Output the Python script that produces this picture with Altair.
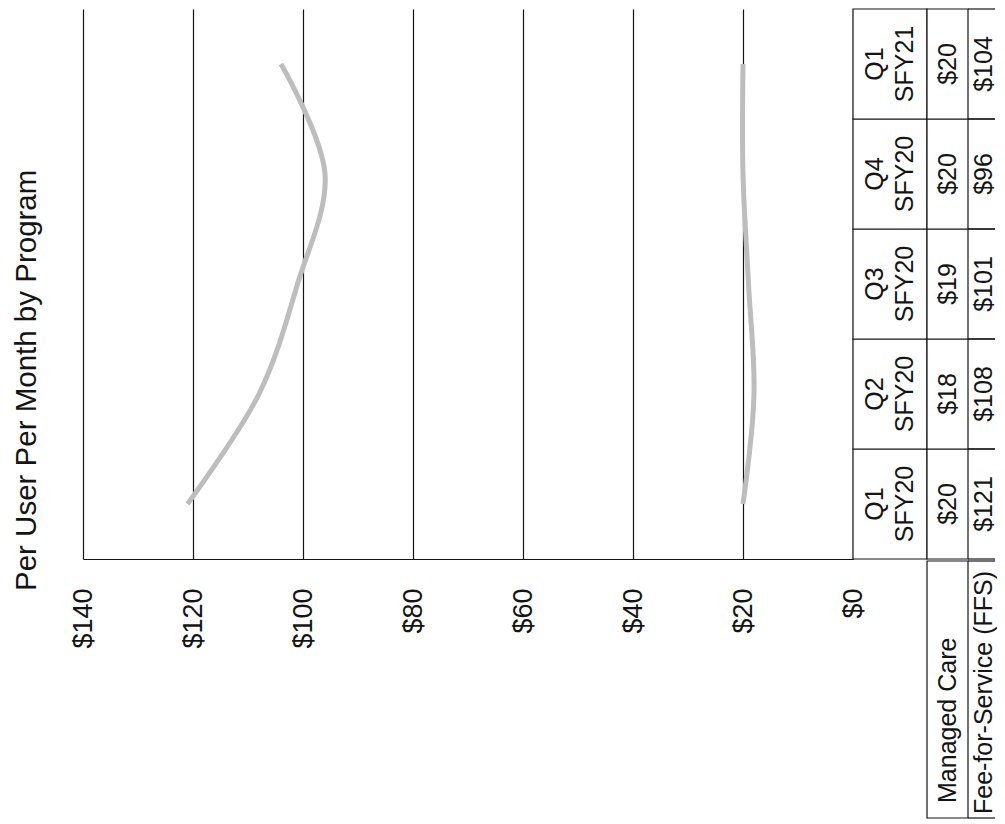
import altair as alt
import pandas as pd

# ---- data ----
quarters = ["Q1 SFY20", "Q2 SFY20", "Q3 SFY20", "Q4 SFY20", "Q1 SFY21"]
managed_care = [20, 18, 19, 20, 20]
ffs = [121, 108, 101, 96, 104]
series_names = ["Managed Care", "Fee-for-Service (FFS)"]
title_text = "Per User Per Month by Program"
tick_values = [0, 20, 40, 60, 80, 100, 120, 140]

FONT = "Liberation Sans"
INK = "#141414"
LINE_GRAY = "#bdbdbd"
order = quarters[::-1]

rows = []
for name, vals in zip(series_names, [managed_care, ffs]):
    for q, v in zip(quarters, vals):
        rows.append({"series": name, "quarter": q, "value": v, "label": f"${v}"})
df = pd.DataFrame(rows)
mc_df = df[df.series == series_names[0]]
ffs_df = df[df.series == series_names[1]]
hdr_df = pd.DataFrame({"quarter": quarters, "header": [q.replace(" ", "\n") for q in quarters]})
mc_name_df = pd.DataFrame({"row": ["name"], "name": [series_names[0]]})
ffs_name_df = pd.DataFrame({"row": ["name"], "name": [series_names[1]]})

PLOT_W, PLOT_H = 770, 550
LAB_H = 257
HDR_W, MC_W, FFS_W = 74, 41, 27

band_scale = alt.Scale(type="band", domain=order, paddingInner=0, paddingOuter=0)
row_scale = alt.Scale(type="band", domain=["name"], paddingInner=0, paddingOuter=0)

# ---- main plot ----
lines = alt.Chart(df).mark_line(
    interpolate="catmull-rom", strokeWidth=5, color=LINE_GRAY
).encode(
    x=alt.X(
        "value:Q",
        scale=alt.Scale(domain=[0, 140], reverse=True, nice=False, zero=True),
        axis=alt.Axis(
            values=tick_values, format="$,.0f", labelAngle=270, labelFontSize=27,
            labelFont=FONT, labelColor=INK, labelPadding=29, ticks=False, tickSize=0,
            domain=True, domainColor=INK, domainWidth=1.2, grid=True, gridColor=INK,
            gridWidth=1.2, gridOpacity=1, title=None,
        ),
    ),
    y=alt.Y("quarter:N", scale=alt.Scale(type="point", domain=order, padding=0.5), axis=None),
    detail="series:N",
).properties(
    width=PLOT_W, height=PLOT_H,
    title=alt.Title(
        title_text, orient="left", anchor="start", frame="group", fontSize=29.5,
        font=FONT, fontWeight="normal", color=INK, offset=27, dx=-32,
    ),
)

# ---- data table ----
def rect_layer(data, field, scale):
    return alt.Chart(data).mark_rect(fill="white", stroke=INK, strokeWidth=1.2).encode(
        y=alt.Y(field, scale=scale, axis=None)
    )

def rules_layer(data, field, scale):
    top = alt.Chart(data).mark_rule(color=INK, strokeWidth=1.2).encode(
        y=alt.Y(field, scale=scale, axis=None, bandPosition=0)
    )
    bot = alt.Chart(data).mark_rule(color=INK, strokeWidth=1.2).encode(
        y=alt.Y(field, scale=scale, axis=None, bandPosition=1)
    )
    return top + bot

text_kw = dict(angle=270, fontSize=25, font=FONT, color=INK, baseline="middle")

hdr = alt.layer(
    rect_layer(hdr_df, "quarter:N", band_scale),
    alt.Chart(hdr_df).mark_text(align="center", lineBreak="\n", lineHeight=30, dy=-15, **text_kw).encode(
        y=alt.Y("quarter:N", scale=band_scale, axis=None, bandPosition=0.5), text="header:N"
    ),
).properties(width=HDR_W, height=PLOT_H)

mcp = alt.layer(
    rect_layer(mc_df, "quarter:N", band_scale),
    alt.Chart(mc_df).mark_text(align="center", **text_kw).encode(
        y=alt.Y("quarter:N", scale=band_scale, axis=None, bandPosition=0.5), text="label:N"
    ),
).properties(width=MC_W, height=PLOT_H)

ffsp = alt.layer(
    rules_layer(ffs_df, "quarter:N", band_scale),
    alt.Chart(ffs_df).mark_text(align="center", dy=2, **text_kw).encode(
        y=alt.Y("quarter:N", scale=band_scale, axis=None, bandPosition=0.5), text="label:N"
    ),
).properties(width=FFS_W, height=PLOT_H)

blank = alt.Chart(mc_name_df).mark_rect(opacity=0).encode(
    y=alt.Y("row:N", scale=row_scale, axis=None)
).properties(width=HDR_W, height=LAB_H)

mcl = alt.layer(
    rect_layer(mc_name_df, "row:N", row_scale),
    alt.Chart(mc_name_df).mark_text(align="left", dx=15, **text_kw).encode(
        y=alt.Y("row:N", scale=row_scale, axis=None, bandPosition=1), text="name:N"
    ),
).properties(width=MC_W, height=LAB_H)

ffsl = alt.layer(
    rules_layer(ffs_name_df, "row:N", row_scale),
    alt.Chart(ffs_name_df).mark_text(align="left", dx=4, dy=2, **text_kw).encode(
        y=alt.Y("row:N", scale=row_scale, axis=None, bandPosition=1), text="name:N"
    ),
).properties(width=FFS_W, height=LAB_H)

right_top = alt.hconcat(hdr, mcp, ffsp, spacing=0, bounds="flush").resolve_scale(x="independent", y="independent")
right_bot = alt.hconcat(blank, mcl, ffsl, spacing=0, bounds="flush").resolve_scale(x="independent", y="independent")
right = alt.vconcat(right_top, right_bot, spacing=0).resolve_scale(x="independent", y="independent")

chart = alt.hconcat(lines, right, spacing=0, bounds="flush").resolve_scale(
    x="independent", y="independent"
).configure_view(stroke=None).properties(
    padding={"left": 3, "top": 0, "right": 0, "bottom": 0}, background="white"
)

chart.save("out.html", embed_options={"renderer": "svg", "actions": False})
